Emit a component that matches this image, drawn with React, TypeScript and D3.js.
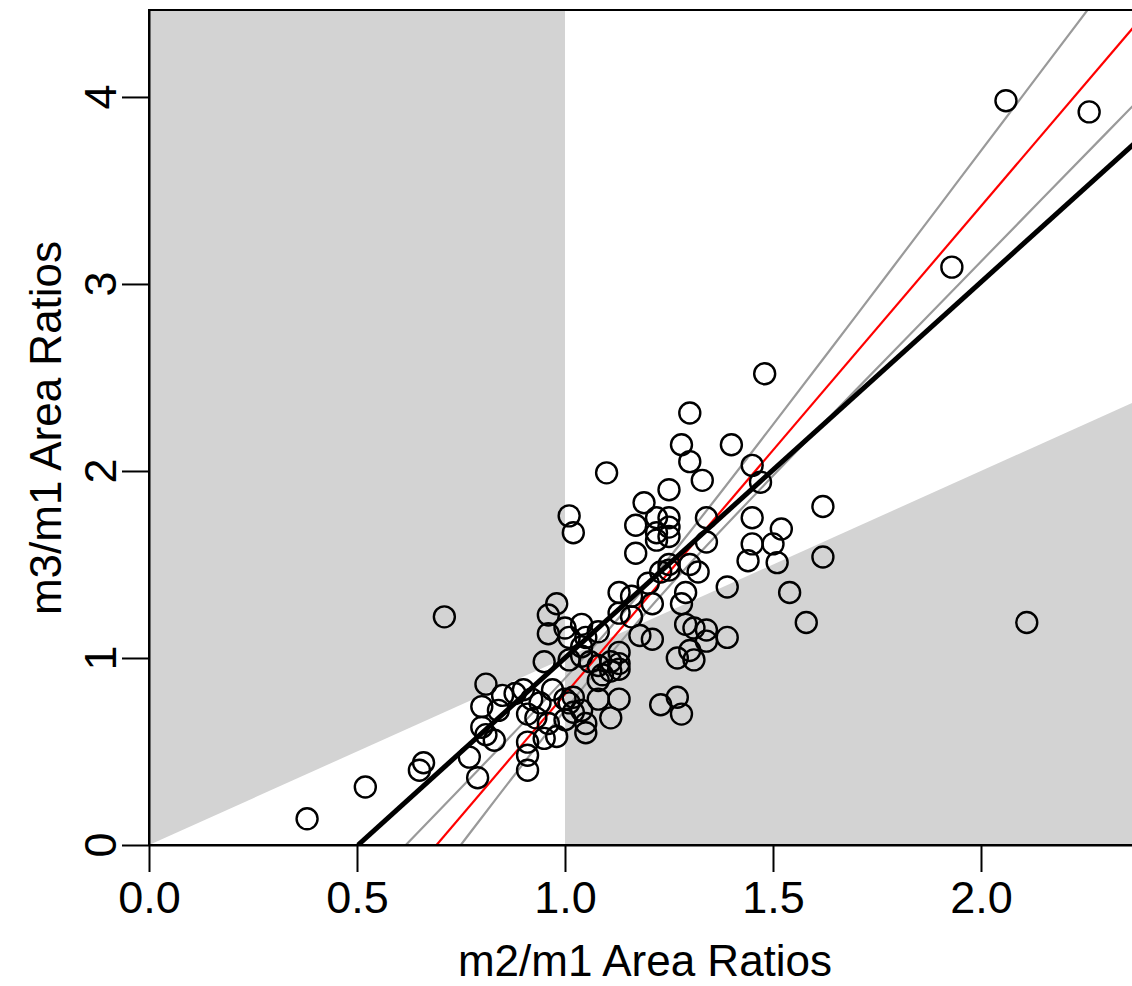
import React, { useEffect, useRef } from "react";
import * as d3 from "d3";

// m2/m1 and m3/m1 area ratios, one entry per specimen
const m2m1 = [
  2.06, 2.26, 1.93, 2.11, 1.48, 1.3, 1.28, 1.4, 1.3, 1.45, 1.47, 1.33, 1.1, 1.25, 1.19, 1.01, 1.02, 1.62, 1.52, 1.17,
  1.22, 1.25, 1.25, 1.22, 1.22, 1.25, 1.34, 1.34, 1.45, 1.45, 1.5, 1.44, 1.51, 1.62, 1.17, 1.25, 1.3, 1.32, 1.39, 1.54,
  1.58, 1.34, 1.34, 1.39, 0.71, 1.28, 1.29, 1.25, 1.23, 1.2, 1.29, 1.31, 1.27, 1.3, 1.31, 1.27, 1.28, 1.23, 0.98, 0.96,
  0.96, 1.0, 1.04, 1.01, 1.05, 1.08, 1.04, 1.13, 1.16, 1.13, 1.16, 1.21, 1.18, 1.21, 0.95, 1.01, 1.04, 1.06, 1.08, 1.11,
  1.13, 1.13, 1.11, 1.09, 1.13, 1.08, 0.97, 0.9, 0.92, 1.0, 1.02, 1.08, 1.13, 1.04, 1.02, 1.01, 1.11, 1.05, 1.0, 1.05,
  0.81, 0.85, 0.88, 0.8, 0.84, 0.94, 0.93, 0.91, 0.8, 0.81, 0.83, 0.96, 0.98, 0.95, 0.91, 0.91, 0.91, 0.77, 0.79, 0.66,
  0.65, 0.52, 0.38,
];
const m3m1 = [
  3.98, 3.92, 3.09, 1.19, 2.52, 2.31, 2.14, 2.14, 2.05, 2.03, 1.94, 1.95, 1.99, 1.9, 1.83, 1.76, 1.67, 1.81, 1.69, 1.71,
  1.75, 1.75, 1.7, 1.67, 1.63, 1.65, 1.75, 1.62, 1.75, 1.61, 1.61, 1.52, 1.51, 1.54, 1.56, 1.5, 1.5, 1.46, 1.38, 1.35,
  1.19, 1.15, 1.09, 1.11, 1.22, 1.29, 1.35, 1.47, 1.46, 1.4, 1.18, 1.16, 1.0, 1.04, 0.99, 0.79, 0.7, 0.75, 1.29, 1.23,
  1.13, 1.16, 1.18, 1.11, 1.11, 1.14, 1.06, 1.24, 1.22, 1.35, 1.33, 1.29, 1.12, 1.1, 0.98, 0.99, 1.01, 0.98, 0.96, 0.98,
  1.03, 0.97, 0.93, 0.91, 0.94, 0.88, 0.83, 0.83, 0.78, 0.78, 0.79, 0.78, 0.78, 0.72, 0.71, 0.76, 0.68, 0.65, 0.67, 0.6,
  0.86, 0.8, 0.81, 0.74, 0.72, 0.76, 0.68, 0.7, 0.63, 0.59, 0.56, 0.65, 0.58, 0.57, 0.55, 0.48, 0.4, 0.47, 0.36, 0.44,
  0.4, 0.31, 0.14,
];

const xTicks = [0, 0.5, 1.0, 1.5, 2.0];
const yTicks = [0, 1, 2, 3, 4];

// fitted lines (intercept, slope)
const olsFit = [-1.01, 2.01];
const redFit = [-1.804, 2.61];
// confidence band around the red fit
const bandX = [0.55, 0.6, 0.8, 1.0, 1.15, 1.3, 1.5, 1.7, 1.9, 2.1, 2.3, 2.4];
const bandUpper = [-0.154, -0.04, 0.421, 0.891, 1.267, 1.674, 2.248, 2.831, 3.418, 4.006, 4.594, 4.888];
const bandLower = [-0.583, -0.436, 0.147, 0.721, 1.129, 1.504, 1.974, 2.435, 2.892, 3.348, 3.804, 4.032];

const W = 1132;
const H = 986;
const xMax = 2.363;
const yMax = 4.465;

const App = () => {
  const ref = useRef<SVGSVGElement>(null);

  useEffect(() => {
    const svg = d3.select(ref.current);
    svg.selectAll("*").remove();
    const font = "'Liberation Sans', Arial, Helvetica, sans-serif";

    const x = d3.scaleLinear().domain([0, xMax]).range([149, 1132]);
    const y = d3.scaleLinear().domain([0, yMax]).range([845, 10]);

    svg
      .append("defs")
      .append("clipPath")
      .attr("id", "plotclip")
      .append("rect")
      .attr("x", x(0))
      .attr("y", y(yMax))
      .attr("width", x(xMax) - x(0))
      .attr("height", y(0) - y(yMax));

    const plot = svg.append("g").attr("clip-path", "url(#plotclip)");

    // shaded regions: left of 1 and above y = x, right of 1 and below y = x
    const poly = d3
      .line<number[]>()
      .x((d) => x(d[0]))
      .y((d) => y(d[1]));
    const leftRegion = [[0, 0], [0, yMax], [1, yMax], [1, 1]];
    const rightRegion = [[1, 0], [1, 1], [xMax, xMax], [xMax, 0]];
    plot.append("path").attr("d", poly(leftRegion) + "Z").attr("fill", "#d3d3d3");
    plot.append("path").attr("d", poly(rightRegion) + "Z").attr("fill", "#d3d3d3");

    const band = d3
      .line<number>()
      .x((d, i) => x(bandX[i]))
      .y((d) => y(d))
      .curve(d3.curveNatural);
    plot.append("path").attr("d", band(bandUpper)).attr("fill", "none").attr("stroke", "#9a9a9a").attr("stroke-width", 2.2);
    plot.append("path").attr("d", band(bandLower)).attr("fill", "none").attr("stroke", "#9a9a9a").attr("stroke-width", 2.2);

    const fitLine = (f: number[], x0: number, x1: number) =>
      poly([
        [x0, f[0] + f[1] * x0],
        [x1, f[0] + f[1] * x1],
      ]);
    plot
      .append("path")
      .attr("d", fitLine(redFit, 0.5, 2.5))
      .attr("fill", "none")
      .attr("stroke", "#ff0000")
      .attr("stroke-width", 2.2);
    plot
      .append("path")
      .attr("d", fitLine(olsFit, -olsFit[0] / olsFit[1], 2.5))
      .attr("fill", "none")
      .attr("stroke", "#000")
      .attr("stroke-width", 5);

    plot
      .append("g")
      .selectAll("circle")
      .data(m2m1)
      .join("circle")
      .attr("cx", (d) => x(d))
      .attr("cy", (d, i) => y(m3m1[i]))
      .attr("r", 10.5)
      .attr("fill", "none")
      .attr("stroke", "#000")
      .attr("stroke-width", 2.4);

    // box
    svg
      .append("rect")
      .attr("x", x(0))
      .attr("y", y(yMax))
      .attr("width", x(xMax) - x(0) + 20)
      .attr("height", y(0) - y(yMax))
      .attr("fill", "none")
      .attr("stroke", "#000")
      .attr("stroke-width", 2);

    const xAxis = svg
      .append("g")
      .attr("transform", `translate(0,${y(0)})`)
      .call(d3.axisBottom(x).tickValues(xTicks).tickSize(27).tickSizeOuter(0).tickPadding(9).tickFormat(d3.format(".1f")));
    xAxis.select(".domain").attr("stroke-width", 2);
    xAxis.selectAll(".tick line").attr("stroke-width", 2);
    xAxis.selectAll(".tick text").attr("font-size", 45).attr("font-family", font).attr("fill", "#000");

    const yAxis = svg
      .append("g")
      .attr("transform", `translate(${x(0)},0)`)
      .call(d3.axisLeft(y).tickValues(yTicks).tickSize(27).tickSizeOuter(0).tickFormat(() => ""));
    yAxis.select(".domain").attr("stroke-width", 2);
    yAxis.selectAll(".tick line").attr("stroke-width", 2);

    svg
      .append("g")
      .selectAll("text")
      .data(yTicks)
      .join("text")
      .attr("x", 116)
      .attr("y", (d) => y(d))
      .attr("transform", (d) => `rotate(-90,116,${y(d)})`)
      .attr("text-anchor", "middle")
      .attr("font-size", 45)
      .attr("font-family", font)
      .text((d) => d);

    svg
      .append("text")
      .attr("x", 645)
      .attr("y", 976)
      .attr("text-anchor", "middle")
      .attr("font-size", 44)
      .attr("font-family", font)
      .text("m2/m1 Area Ratios");

    svg
      .append("text")
      .attr("x", 61)
      .attr("y", 428)
      .attr("transform", "rotate(-90,61,428)")
      .attr("text-anchor", "middle")
      .attr("font-size", 44)
      .attr("font-family", font)
      .text("m3/m1 Area Ratios");
  }, []);

  return (
    <div style={{ position: "absolute", left: 0, top: 0 }}>
      <svg ref={ref} width={W} height={H} style={{ display: "block", background: "#fff" }} />
    </div>
  );
};

export default App;
